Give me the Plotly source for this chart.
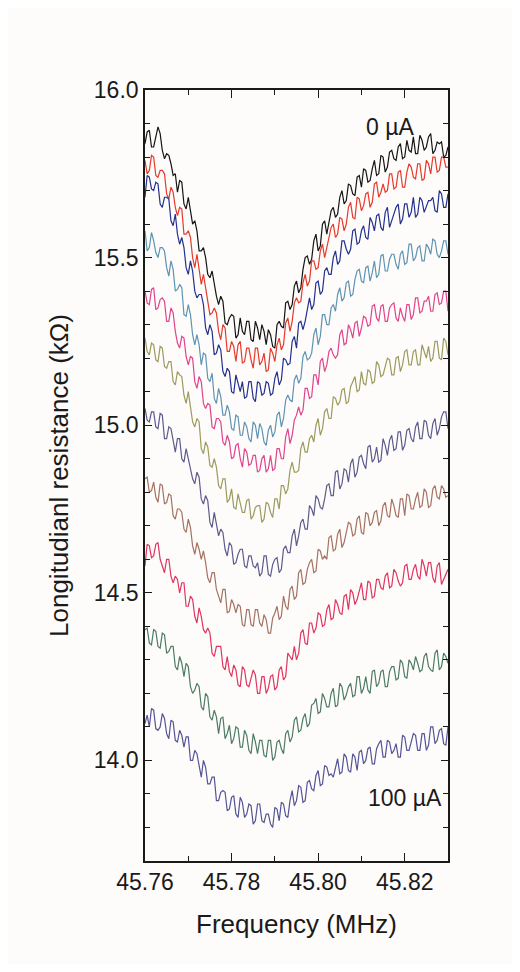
import numpy as np
import plotly.graph_objects as go

# Frequency grid (MHz): 45.7600 ... 45.8300 sampled every 0.0005 MHz
freq = np.round(45.760 + 0.0005 * np.arange(141), 4)

currents = ["0 µA", "10 µA", "20 µA", "30 µA", "40 µA", "50 µA",
            "60 µA", "70 µA", "80 µA", "90 µA", "100 µA"]

# Longitudinal resistance (kΩ), one list per current
r_0 = [15.84,15.875,15.88,15.83,15.83,15.865,15.89,15.87,15.82,15.795,15.81,15.805,15.78,15.745,15.75,15.695,15.73,15.725,15.66,15.645,
       15.68,15.64,15.60,15.61,15.58,15.52,15.52,15.53,15.50,15.45,15.44,15.46,15.42,15.385,15.36,15.385,15.37,15.305,15.30,15.32,
       15.33,15.325,15.26,15.27,15.32,15.28,15.27,15.31,15.31,15.255,15.25,15.31,15.29,15.255,15.30,15.28,15.24,15.285,15.27,15.235,
       15.23,15.30,15.31,15.295,15.29,15.365,15.37,15.345,15.36,15.415,15.43,15.395,15.41,15.465,15.50,15.505,15.48,15.495,15.55,15.57,
       15.52,15.535,15.60,15.61,15.57,15.60,15.64,15.65,15.62,15.63,15.68,15.70,15.66,15.67,15.72,15.715,15.69,15.685,15.74,15.745,
       15.71,15.765,15.76,15.725,15.73,15.765,15.79,15.745,15.75,15.805,15.80,15.755,15.77,15.815,15.82,15.795,15.79,15.83,15.84,15.795,
       15.80,15.85,15.82,15.815,15.86,15.81,15.81,15.865,15.85,15.82,15.83,15.86,15.87,15.81,15.82,15.845,15.84,15.845,15.80,15.805,15.83]
r_10 = [15.79,15.75,15.76,15.805,15.80,15.745,15.74,15.76,15.76,15.75,15.69,15.675,15.71,15.695,15.65,15.625,15.65,15.645,15.57,15.57,
        15.58,15.56,15.50,15.47,15.51,15.47,15.42,15.45,15.41,15.36,15.33,15.335,15.35,15.335,15.28,15.255,15.30,15.29,15.22,15.22,
        15.25,15.235,15.19,15.24,15.25,15.185,15.19,15.23,15.23,15.195,15.17,15.23,15.23,15.18,15.19,15.215,15.16,15.165,15.23,15.215,
        15.19,15.24,15.26,15.225,15.24,15.305,15.32,15.28,15.31,15.365,15.38,15.365,15.37,15.425,15.45,15.415,15.43,15.49,15.49,15.465,
        15.47,15.52,15.54,15.50,15.53,15.57,15.59,15.60,15.56,15.57,15.62,15.615,15.58,15.60,15.65,15.665,15.62,15.615,15.68,15.675,
        15.64,15.655,15.69,15.695,15.65,15.665,15.72,15.725,15.68,15.695,15.72,15.695,15.70,15.75,15.75,15.705,15.71,15.755,15.76,15.71,
        15.71,15.755,15.78,15.77,15.74,15.735,15.78,15.78,15.73,15.735,15.79,15.78,15.75,15.80,15.80,15.755,15.76,15.80,15.80,15.77,15.77]
r_20 = [15.68,15.745,15.74,15.705,15.70,15.725,15.72,15.66,15.65,15.68,15.68,15.675,15.61,15.595,15.63,15.57,15.54,15.56,15.53,15.47,
        15.45,15.49,15.46,15.40,15.38,15.39,15.39,15.36,15.29,15.27,15.30,15.28,15.21,15.215,15.24,15.225,15.16,15.145,15.17,15.16,
        15.10,15.095,15.15,15.125,15.10,15.13,15.08,15.085,15.13,15.13,15.08,15.07,15.13,15.125,15.09,15.095,15.13,15.125,15.09,15.095,
        15.14,15.16,15.12,15.135,15.20,15.195,15.18,15.185,15.25,15.265,15.23,15.305,15.31,15.285,15.31,15.345,15.38,15.345,15.36,15.425,
        15.43,15.39,15.40,15.46,15.47,15.45,15.45,15.50,15.52,15.48,15.49,15.55,15.55,15.525,15.51,15.525,15.58,15.585,15.54,15.545,
        15.58,15.595,15.56,15.555,15.62,15.605,15.58,15.625,15.63,15.59,15.58,15.635,15.65,15.59,15.61,15.635,15.65,15.66,15.60,15.615,
        15.66,15.66,15.62,15.635,15.68,15.62,15.63,15.68,15.67,15.635,15.65,15.67,15.67,15.68,15.64,15.635,15.70,15.69,15.65,15.65,15.69]
r_30 = [15.58,15.52,15.53,15.575,15.55,15.515,15.50,15.53,15.53,15.52,15.47,15.445,15.49,15.465,15.40,15.405,15.42,15.41,15.33,15.325,
        15.36,15.33,15.27,15.24,15.27,15.24,15.18,15.215,15.21,15.14,15.13,15.155,15.08,15.065,15.11,15.085,15.03,15.03,15.06,15.04,
        14.99,14.985,15.03,15.025,14.97,14.97,15.01,14.995,14.96,14.95,15.01,15.00,14.96,15.005,14.99,14.95,14.94,14.985,15.00,14.965,
        14.98,15.03,15.04,14.995,15.02,15.075,15.09,15.075,15.07,15.135,15.15,15.125,15.14,15.205,15.22,15.195,15.20,15.215,15.27,15.29,
        15.24,15.265,15.33,15.33,15.30,15.30,15.35,15.36,15.34,15.39,15.41,15.37,15.38,15.425,15.43,15.385,15.39,15.435,15.46,15.465,
        15.43,15.425,15.47,15.475,15.43,15.455,15.49,15.44,15.45,15.505,15.51,15.46,15.46,15.495,15.51,15.51,15.48,15.465,15.51,15.52,
        15.48,15.485,15.54,15.54,15.49,15.50,15.53,15.535,15.49,15.49,15.54,15.53,15.51,15.555,15.55,15.51,15.50,15.52,15.55,15.55,15.51]
r_40 = [15.40,15.365,15.36,15.405,15.41,15.345,15.35,15.375,15.38,15.37,15.31,15.31,15.35,15.335,15.28,15.245,15.23,15.265,15.26,15.205,
        15.18,15.205,15.20,15.13,15.11,15.145,15.13,15.065,15.05,15.065,15.06,14.995,14.99,15.02,15.02,15.01,14.95,14.94,14.97,14.95,
        14.90,14.905,14.94,14.945,14.90,14.875,14.93,14.92,14.88,14.885,14.91,14.91,14.86,14.865,14.90,14.91,14.86,14.87,14.91,14.865,
        14.87,14.93,14.93,14.90,14.90,14.965,14.99,14.945,14.97,15.015,15.03,15.055,15.03,15.045,15.11,15.11,15.08,15.085,15.15,15.15,
        15.12,15.19,15.20,15.16,15.18,15.22,15.23,15.21,15.20,15.21,15.27,15.285,15.24,15.245,15.30,15.285,15.26,15.305,15.31,15.265,
        15.29,15.325,15.32,15.295,15.30,15.355,15.36,15.32,15.31,15.355,15.36,15.31,15.31,15.35,15.36,15.365,15.32,15.31,15.35,15.325,
        15.31,15.36,15.36,15.315,15.33,15.38,15.38,15.335,15.34,15.37,15.37,15.385,15.34,15.34,15.39,15.395,15.36,15.365,15.40,15.40,15.34]
r_50 = [15.26,15.22,15.21,15.245,15.24,15.195,15.19,15.235,15.23,15.175,15.17,15.19,15.19,15.13,15.12,15.16,15.15,15.145,15.09,15.065,
        15.10,15.06,15.01,14.995,15.02,15.01,14.93,14.915,14.95,14.935,14.88,14.875,14.90,14.875,14.82,14.81,14.84,14.84,14.77,14.78,
        14.81,14.755,14.75,14.795,14.77,14.74,14.74,14.775,14.78,14.72,14.73,14.755,14.76,14.76,14.71,14.72,14.77,14.765,14.74,14.725,
        14.78,14.78,14.75,14.82,14.82,14.795,14.81,14.865,14.89,14.86,14.86,14.865,14.93,14.95,14.92,14.92,14.96,14.97,14.95,15.00,
        15.02,14.97,14.99,15.04,15.05,15.02,15.02,15.085,15.08,15.06,15.07,15.105,15.11,15.065,15.07,15.115,15.13,15.145,15.10,15.105,
        15.16,15.125,15.12,15.165,15.16,15.125,15.13,15.19,15.18,15.145,15.15,15.18,15.20,15.195,15.15,15.15,15.20,15.205,15.16,15.18,
        15.22,15.225,15.18,15.18,15.22,15.225,15.18,15.18,15.24,15.22,15.20,15.235,15.19,15.20,15.25,15.25,15.20,15.195,15.26,15.25,15.21]
r_60 = [15.05,15.015,15.01,15.04,15.04,14.995,14.99,15.035,15.03,14.96,14.96,14.995,14.99,14.95,14.92,14.96,14.96,14.90,14.89,14.93,
        14.90,14.865,14.84,14.825,14.86,14.845,14.78,14.765,14.79,14.775,14.71,14.695,14.74,14.705,14.67,14.69,14.68,14.63,14.61,14.65,
        14.64,14.585,14.59,14.615,14.63,14.63,14.58,14.575,14.61,14.61,14.58,14.575,14.59,14.55,14.56,14.61,14.61,14.555,14.55,14.585,
        14.60,14.605,14.56,14.57,14.63,14.64,14.62,14.62,14.67,14.69,14.64,14.67,14.71,14.72,14.69,14.69,14.76,14.75,14.73,14.79,
        14.78,14.755,14.75,14.78,14.82,14.825,14.79,14.79,14.86,14.865,14.81,14.825,14.87,14.865,14.83,14.885,14.90,14.845,14.86,14.905,
        14.91,14.885,14.87,14.935,14.94,14.89,14.90,14.935,14.89,14.895,14.96,14.94,14.91,14.955,14.97,14.925,14.93,14.98,14.98,14.925,
        14.94,14.985,14.99,14.96,14.95,14.995,15.01,14.96,14.96,15.015,15.01,14.97,14.96,15.005,15.02,14.97,14.99,15.025,15.04,15.04,14.99]
r_70 = [14.84,14.845,14.80,14.805,14.83,14.785,14.77,14.825,14.82,14.765,14.77,14.795,14.79,14.73,14.72,14.75,14.75,14.74,14.69,14.68,
        14.72,14.695,14.64,14.615,14.65,14.63,14.60,14.625,14.59,14.545,14.53,14.56,14.56,14.51,14.49,14.47,14.51,14.51,14.44,14.445,
        14.48,14.465,14.44,14.465,14.46,14.405,14.40,14.45,14.45,14.405,14.40,14.45,14.45,14.41,14.40,14.435,14.42,14.38,14.38,14.425,
        14.44,14.46,14.42,14.43,14.49,14.46,14.45,14.51,14.52,14.48,14.49,14.56,14.57,14.525,14.53,14.57,14.59,14.60,14.56,14.565,
        14.63,14.625,14.60,14.61,14.60,14.665,14.67,14.625,14.63,14.675,14.69,14.635,14.65,14.685,14.71,14.705,14.67,14.675,14.72,14.73,
        14.68,14.675,14.74,14.735,14.70,14.71,14.74,14.745,14.70,14.715,14.76,14.77,14.73,14.725,14.78,14.76,14.73,14.725,14.78,14.78,
        14.73,14.795,14.79,14.75,14.75,14.78,14.80,14.755,14.76,14.81,14.80,14.755,14.76,14.81,14.82,14.785,14.78,14.82,14.81,14.785,14.79]
r_80 = [14.58,14.645,14.64,14.605,14.61,14.645,14.65,14.60,14.58,14.56,14.60,14.60,14.55,14.53,14.55,14.54,14.50,14.53,14.53,14.46,
        14.46,14.49,14.48,14.43,14.41,14.455,14.43,14.39,14.38,14.395,14.38,14.32,14.31,14.34,14.34,14.34,14.28,14.27,14.31,14.265,
        14.25,14.285,14.27,14.225,14.22,14.28,14.27,14.225,14.22,14.25,14.27,14.255,14.20,14.20,14.25,14.25,14.20,14.215,14.25,14.255,
        14.21,14.22,14.27,14.28,14.24,14.25,14.32,14.31,14.30,14.34,14.30,14.32,14.38,14.39,14.35,14.345,14.41,14.41,14.38,14.395,
        14.44,14.435,14.40,14.405,14.45,14.465,14.42,14.425,14.48,14.465,14.44,14.435,14.49,14.495,14.45,14.51,14.50,14.465,14.48,14.505,
        14.53,14.48,14.48,14.535,14.53,14.485,14.49,14.54,14.54,14.515,14.51,14.55,14.56,14.515,14.52,14.57,14.56,14.535,14.52,14.53,
        14.58,14.585,14.54,14.54,14.57,14.585,14.55,14.54,14.60,14.58,14.55,14.59,14.59,14.545,14.53,14.58,14.59,14.525,14.54,14.56,14.57]
r_90 = [14.39,14.395,14.35,14.345,14.39,14.385,14.34,14.335,14.38,14.375,14.32,14.325,14.34,14.34,14.28,14.27,14.31,14.29,14.25,14.29,
        14.28,14.22,14.20,14.21,14.23,14.22,14.16,14.15,14.20,14.19,14.13,14.12,14.15,14.13,14.08,14.125,14.13,14.065,14.08,14.105,
        14.05,14.065,14.10,14.095,14.04,14.04,14.09,14.075,14.03,14.02,14.08,14.055,14.02,14.06,14.06,14.015,14.01,14.06,14.06,14.00,
        14.01,14.055,14.06,14.035,14.02,14.08,14.09,14.055,14.07,14.12,14.13,14.085,14.09,14.125,14.14,14.10,14.11,14.165,14.17,14.185,
        14.14,14.145,14.20,14.185,14.16,14.16,14.20,14.215,14.16,14.165,14.23,14.22,14.18,14.195,14.22,14.23,14.19,14.195,14.25,14.25,
        14.20,14.215,14.25,14.21,14.20,14.265,14.27,14.22,14.23,14.265,14.27,14.22,14.22,14.265,14.28,14.28,14.24,14.245,14.30,14.29,
        14.25,14.245,14.30,14.29,14.27,14.31,14.29,14.265,14.27,14.31,14.32,14.28,14.27,14.265,14.32,14.33,14.27,14.28,14.32,14.31,14.29]
r_100 = [14.11,14.135,14.10,14.155,14.15,14.095,14.09,14.10,14.14,14.125,14.08,14.065,14.12,14.115,14.06,14.055,14.09,14.075,14.04,14.07,
         14.07,14.00,14.00,14.03,14.02,13.98,13.95,14.00,13.98,13.93,13.93,13.95,13.95,13.88,13.88,13.905,13.91,13.905,13.85,13.855,
         13.89,13.895,13.84,13.83,13.89,13.875,13.83,13.84,13.87,13.865,13.81,13.82,13.87,13.87,13.82,13.815,13.84,13.84,13.81,13.80,
         13.86,13.855,13.82,13.875,13.87,13.835,13.83,13.88,13.91,13.865,13.88,13.925,13.92,13.875,13.88,13.935,13.94,13.915,13.91,13.955,
         13.97,13.925,13.93,13.985,13.98,13.955,13.96,13.95,13.98,14.005,13.96,13.965,14.02,14.01,13.97,13.965,14.02,14.01,13.97,14.025,
         14.03,13.99,14.00,14.035,14.04,13.99,13.99,14.035,14.05,14.06,14.01,14.01,14.06,14.055,14.02,14.03,14.05,14.01,14.01,14.075,
         14.07,14.03,14.03,14.06,14.08,14.075,14.03,14.03,14.08,14.08,14.03,14.045,14.10,14.10,14.05,14.06,14.09,14.095,14.05,14.045,14.10]

series = [r_0, r_10, r_20, r_30, r_40, r_50, r_60, r_70, r_80, r_90, r_100]
colors = ["#151515", "#e53a2c", "#23308e", "#5f93b2", "#e0448c", "#9c9a5e",
          "#5c5b8c", "#a47262", "#e03560", "#4d7b66", "#545496"]

fig = go.Figure()
for name, vals, col in zip(currents, series, colors):
    fig.add_trace(go.Scatter(x=freq, y=vals, mode="lines", name=name,
                             line=dict(color=col, width=1.2), showlegend=False))

FONT = "Liberation Sans, Arial, sans-serif"
bg = "#fdfcfa"
ink = "#1a1a1a"

fig.add_annotation(x=45.8226, y=15.89, text="0 µA", showarrow=False,
                   xanchor="right", yanchor="middle",
                   font=dict(family=FONT, size=23, color=ink))
fig.add_annotation(x=45.8291, y=13.887, text="100 µA", showarrow=False,
                   xanchor="right", yanchor="middle",
                   font=dict(family=FONT, size=23, color=ink))

fig.update_layout(
    width=504, height=956,
    margin=dict(l=137, r=64, t=82, b=103),
    paper_bgcolor=bg, plot_bgcolor=bg,
    font=dict(family=FONT, color=ink),
    xaxis=dict(
        range=[45.76, 45.83], tickvals=[45.76, 45.78, 45.80, 45.82],
        ticktext=["45.76", "45.78", "45.80", "45.82"],
        ticks="inside", ticklen=8, tickwidth=1.3, tickcolor=ink,
        minor=dict(tickvals=[45.77, 45.79, 45.81], ticks="inside", ticklen=5,
                   tickwidth=1.3, tickcolor=ink),
        showline=True, linecolor=ink, linewidth=1.6, mirror="ticks",
        showgrid=False, zeroline=False,
        tickfont=dict(family=FONT, size=23, color=ink),
        title=dict(text="Frequency (MHz)", standoff=20,
                   font=dict(family=FONT, size=26, color=ink)),
    ),
    yaxis=dict(
        range=[13.70, 16.0], tick0=14.0, dtick=0.5, tickformat=".1f",
        ticks="inside", ticklen=7, tickwidth=1.3, tickcolor=ink,
        ticklabelstandoff=0,
        minor=dict(dtick=0.1, tick0=14.0, ticks="inside", ticklen=5,
                   tickwidth=1.3, tickcolor=ink),
        showline=True, linecolor=ink, linewidth=1.6, mirror="ticks",
        showgrid=False, zeroline=False,
        tickfont=dict(family=FONT, size=23, color=ink),
        title=dict(text="Longitudianl resistance (kΩ)", standoff=18,
                   font=dict(family=FONT, size=26, color=ink)),
    ),
)

fig.write_html("out.html")
